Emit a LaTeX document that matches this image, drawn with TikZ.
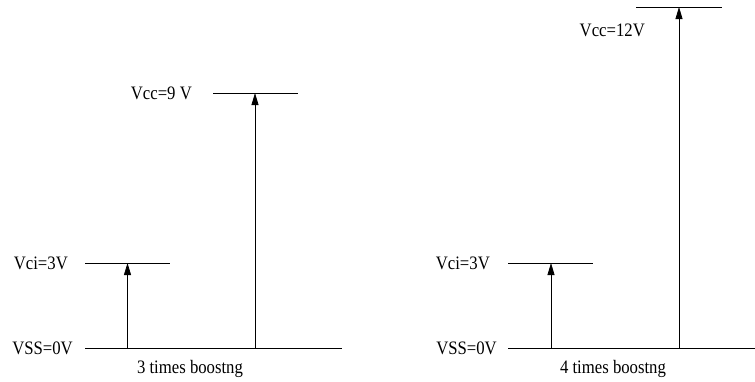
\documentclass[tikz,border=0pt]{standalone}
\usepackage{fontspec}
\setmainfont{Liberation Serif}
\usetikzlibrary{arrows.meta}
\begin{document}
\begin{tikzpicture}[x=1pt,y=-1pt,
  lvl/.style={line width=0.8pt},
  up/.style={line width=0.8pt,-{Triangle[width=7pt,length=12pt]}},
  lbl/.style={font=\fontsize{19}{21}\selectfont,inner sep=0pt,anchor=east,xscale=0.88,transform shape},
  captxt/.style={font=\fontsize{19}{21}\selectfont,inner sep=0pt,xscale=0.88,transform shape}]
\useasboundingbox (0,0) rectangle (755,381);
% left panel
\coordinate (L0a) at (85,348); \coordinate (L0b) at (342,348);
\coordinate (L1a) at (85,263); \coordinate (L1b) at (170,263);
\coordinate (L2a) at (213,93); \coordinate (L2b) at (298,93);
\coordinate (La0) at (127.5,348); \coordinate (La1) at (127.5,263);
\coordinate (Lb0) at (255,348); \coordinate (Lb1) at (255,93);
\draw[lvl] (L0a) -- (L0b);
\draw[lvl] (L1a) -- (L1b);
\draw[lvl] (L2a) -- (L2b);
\draw[up] (La0) -- (La1);
\draw[up] (Lb0) -- (Lb1);
\node[lbl] (lvss) at (73,348) {VSS=0V};
\node[lbl] (lvci) at (68,263) {Vci=3V};
\node[lbl] (lvcc) at (192,93) {Vcc=9 V};
\node[captxt] (lcap) at (190,369) {3 times boostng};
% right panel
\coordinate (R0a) at (508,348); \coordinate (R0b) at (755,348);
\coordinate (R1a) at (508,263); \coordinate (R1b) at (593,263);
\coordinate (R2a) at (636,7); \coordinate (R2b) at (722,7);
\coordinate (Ra0) at (551,348); \coordinate (Ra1) at (551,263);
\coordinate (Rb0) at (679,348); \coordinate (Rb1) at (679,7);
\draw[lvl] (R0a) -- (R0b);
\draw[lvl] (R1a) -- (R1b);
\draw[lvl] (R2a) -- (R2b);
\draw[up] (Ra0) -- (Ra1);
\draw[up] (Rb0) -- (Rb1);
\node[lbl] (rvss) at (497,348) {VSS=0V};
\node[lbl] (rvci) at (490,263) {Vci=3V};
\node[lbl] (rvcc) at (645,30) {Vcc=12V};
\node[captxt] (rcap) at (613,369) {4 times boostng};
\end{tikzpicture}
\end{document}
